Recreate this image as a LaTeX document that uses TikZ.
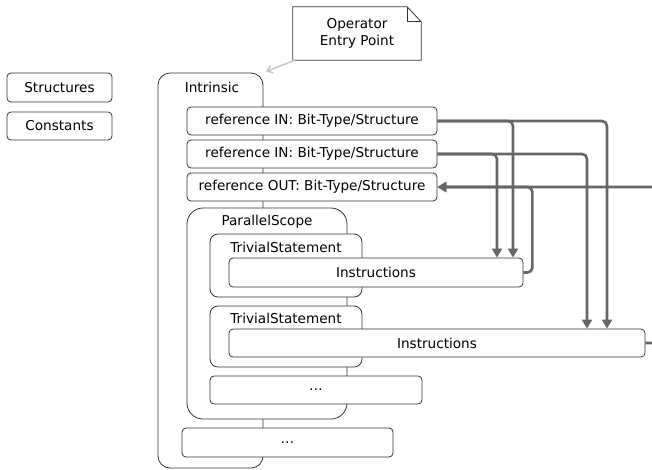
\documentclass[tikz,border=0pt]{standalone}
\usepackage{fontspec}
\setmainfont{DejaVu Sans}
\usetikzlibrary{arrows.meta,calc}
\begin{document}
\begin{tikzpicture}[x=1pt,y=-1pt,
  box/.style={draw=black!80, line width=0.8pt, rounded corners=4pt, fill=white, inner sep=0pt,
    font=\fontsize{13.6}{17}\selectfont},
  cont/.style={box, rounded corners=#1},
  lbl/.style={inner sep=0pt, font=\fontsize{13.6}{17}\selectfont},
  flow/.style={draw=black!60, line width=2.6pt, rounded corners=5pt, -{Triangle[length=9pt,width=10pt]}},
  entry/.style={draw=black!22, line width=1.6pt, -{Straight Barb[length=5pt,width=8pt]}},
  outline/.style={draw=black!80, line width=0.8pt}
]
\useasboundingbox (0,0) rectangle (652,469);
\clip (0,0) rectangle (652,469);

% left boxes
\node[box, minimum width=105, minimum height=29] (struct) at (59.5,87.5) {Structures};
\node[box, minimum width=105, minimum height=28] (const) at (59.5,126) {Constants};

% note with folded corner
\node[lbl, minimum width=128, minimum height=53, align=center] (note) at (357,33.5) {Operator\\Entry Point};
\draw[outline]
  (note.south west) -- (note.north west) -- ($(note.north east)+(-14,0)$)
  -- ($(note.north east)+(0,15)$) -- (note.south east) -- cycle;
\draw[outline]
  ($(note.north east)+(-14,0)$) -- ($(note.north east)+(-14,15)$) -- ($(note.north east)+(0,15)$);

% Intrinsic container
\node[cont=12pt, minimum width=105, minimum height=395] (intr) at (210.5,270.5) {};
\node[lbl] (intrl) at (212,87) {Intrinsic};
\draw[entry, shorten >=3pt] ($(note.south west)+(2,0)$) -- (intr.north east);

\node[box, minimum width=250, minimum height=28] (in1) at (312,121) {reference IN: Bit-Type/Structure};
\node[box, minimum width=250, minimum height=28] (in2) at (312,154) {reference IN: Bit-Type/Structure};
\node[box, minimum width=250, minimum height=28] (out) at (312,187) {reference OUT: Bit-Type/Structure};

% ParallelScope
\node[cont=16pt, minimum width=160, minimum height=211] (ps) at (267,313.5) {};
\node[lbl] (psl) at (267,222) {ParallelScope};

\node[cont=8pt, minimum width=152, minimum height=63] (ts1) at (286,265.5) {};
\node[lbl] (ts1l) at (286,247) {TrivialStatement};
\node[box, minimum width=294, minimum height=29] (ins1) at (376,272.5) {Instructions};

\node[cont=8pt, minimum width=152, minimum height=61] (ts2) at (286,336.5) {};
\node[lbl] (ts2l) at (286,318) {TrivialStatement};
\node[box, minimum width=416, minimum height=28] (ins2) at (437,343) {Instructions};

\node[box, minimum width=212, minimum height=28] (dots1) at (316,390) {\dots};
\node[box, minimum width=211, minimum height=29] (dots2) at (287.5,442.5) {\dots};

% connectors
\draw[flow] (in1.east) -| ([xshift=137pt]ins1.north);
\draw[flow] (in1.east) -| ([xshift=170pt]ins2.north);
\draw[flow] (in2.east) -| ([xshift=121pt]ins1.north);
\draw[flow] (in2.east) -| ([xshift=150pt]ins2.north);
\draw[flow] (ins1.east) -- ++(9,0) |- (out.east);
\draw[flow] (ins2.east) -- ++(30,0) |- (out.east);
\end{tikzpicture}
\end{document}
